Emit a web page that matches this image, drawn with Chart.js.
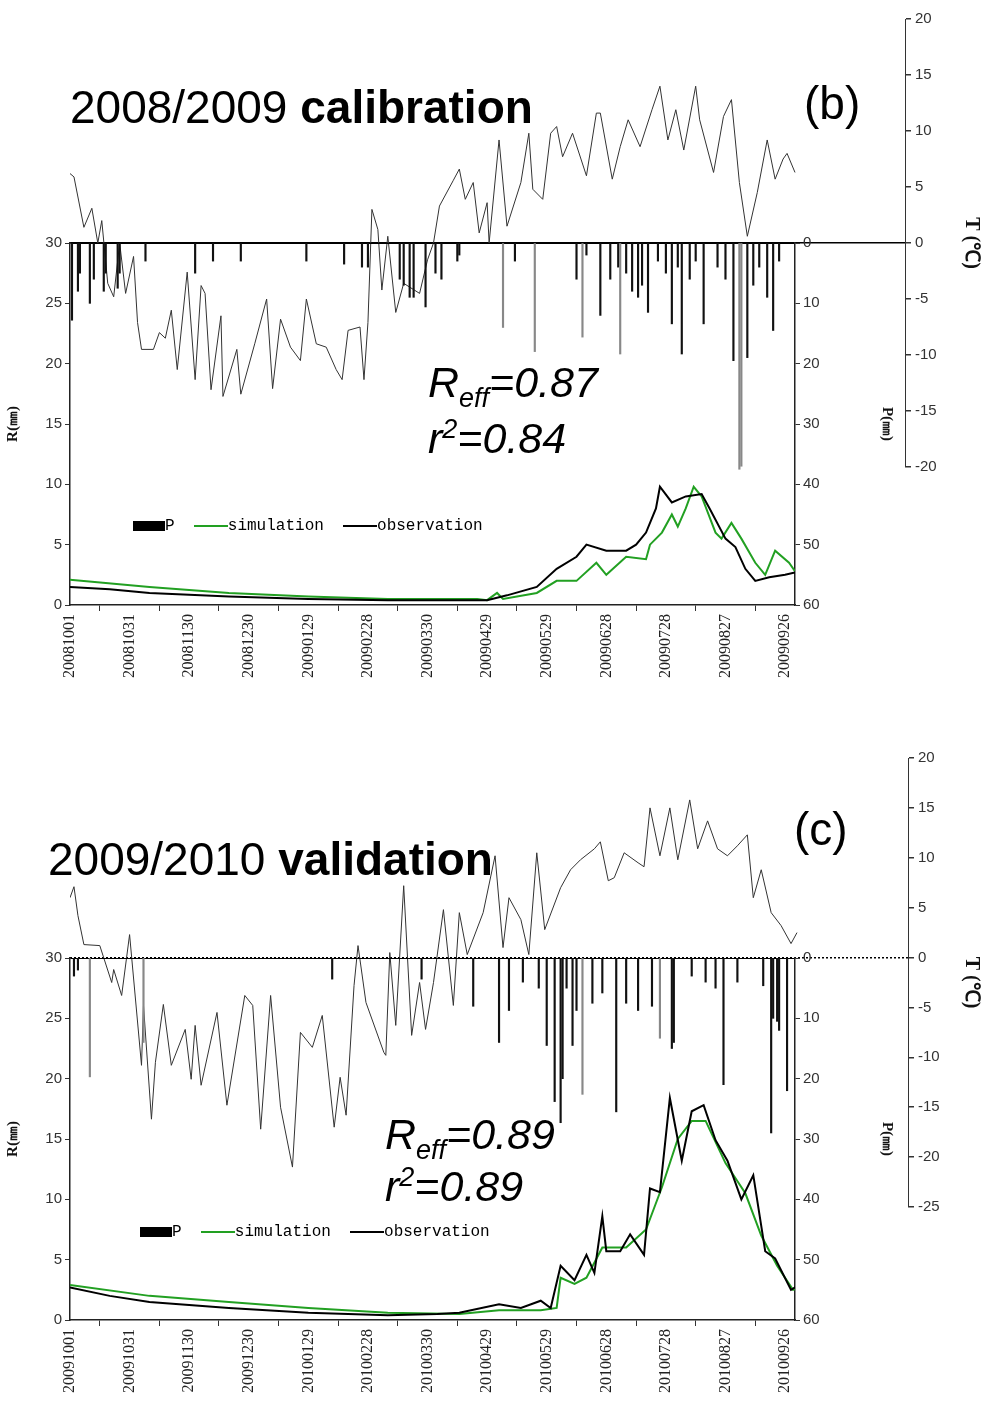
<!DOCTYPE html>
<html>
<head>
<meta charset="utf-8">
<script src="https://cdn.jsdelivr.net/npm/chart.js@4"></script>
<style>
body { margin: 0; background: #fff; width: 987px; height: 1425px; position: relative; overflow: hidden; }
canvas { position: absolute; }
.t { position: absolute; font-family: "Liberation Sans", Arial, sans-serif; color: #000; white-space: nowrap; }
.title { font-size: 46px; }
.stat { font-size: 43px; font-style: italic; }
.leg { position: absolute; font-family: "Liberation Mono", monospace; font-size: 16px; white-space: nowrap; }
.leg span { display: inline-block; vertical-align: middle; }
</style>
</head>
<body>
<canvas id="tempB" style="left:0;top:0"></canvas>
<canvas id="mainB" style="left:0;top:230px"></canvas>
<canvas id="tempC" style="left:0;top:720px"></canvas>
<canvas id="mainC" style="left:0;top:945px"></canvas>

<div class="t title" style="left:70px;top:80px">2008/2009 <b>calibration</b></div>
<div class="t title" style="left:804px;top:76px">(b)</div>
<div class="t stat" style="left:428px;top:358px">R<sub style="font-size:27px">eff</sub>=0.87</div>
<div class="t stat" style="left:428px;top:414px">r<sup style="font-size:27px">2</sup>=0.84</div>
<div class="leg" style="left:133px;top:517px"><span style="width:32px;height:10px;background:#000"></span>P&nbsp;&nbsp;<span style="width:34px;height:2px;background:#22a022"></span>simulation&nbsp;&nbsp;<span style="width:34px;height:2px;background:#000"></span>observation</div>

<div class="t title" style="left:48px;top:832px">2009/2010 <b>validation</b></div>
<div class="t title" style="left:794px;top:802px">(c)</div>
<div class="t stat" style="left:385px;top:1110px">R<sub style="font-size:27px">eff</sub>=0.89</div>
<div class="t stat" style="left:385px;top:1162px">r<sup style="font-size:27px">2</sup>=0.89</div>
<div class="leg" style="left:140px;top:1223px"><span style="width:32px;height:10px;background:#000"></span>P&nbsp;&nbsp;<span style="width:34px;height:2px;background:#22a022"></span>simulation&nbsp;&nbsp;<span style="width:34px;height:2px;background:#000"></span>observation</div>

<script>
// ---- panel (b) 2008/2009, x = day since 1 Oct 2008 ----
const tempDayB = [0,2,7,11,14,16,19,22,25,28,32,34,36,42,45,48,51,54,59,63,66,68,71,76,77,84,86,93,99,102,106,111,116,119,124,129,134,137,140,146,148,150,152,155,157,160,164,168,176,180,183,186,193,196,199,203,206,210,211,216,220,227,231,233,238,242,245,248,253,260,265,267,273,277,281,287,293,297,301,305,309,315,317,324,329,333,337,341,346,351,355,359,361,365];
const tempB = [6.2,5.9,1.4,3.1,0,2,-3.6,-4.8,0,-4.5,-1.2,-7.1,-9.5,-9.5,-8,-8.5,-6,-11.3,-2.6,-12.2,-3.8,-4.5,-13.1,-6.5,-13.7,-9.5,-13.5,-9,-5,-13,-6.8,-9.3,-10.5,-5,-9,-9.3,-11.3,-12.2,-7.8,-7.5,-12.2,-7.1,3,1.2,-4.2,0.6,-6.2,-3.6,-4.5,-1.5,0,3.3,5.6,6.6,3.9,5.4,0.9,3.6,0,9.2,1.5,5.4,9.8,4.8,3.9,9.8,10.4,7.7,9.8,6,11.6,11.6,5.7,8.6,11,8.6,11.9,14,9.2,11.9,8.3,14,11,6.3,11.3,12.8,5.4,0.6,4.5,9.2,5.7,7.5,8,6.3];
const precDayB = [1,4,5,10,12,17,18,24,25,38,63,72,86,119,138,147,150,166,168,171,173,179,184,187,195,196,218,224,234,255,258,260,267,272,276,277,280,283,286,288,291,296,300,303,306,308,312,315,319,326,330,334,337,338,341,344,347,351,354,357];
const precB = [12.8,8,5,10,6,8,5,7.5,5,3,5,3,3,3,3.5,4,4,6,7,9,9,10.6,5,6,3,2,14,3,18,6,15.6,2,12,6,4,18.4,5,8,9,7,11.5,3,5,13.4,4,18.4,6,3,13.4,4,6,19.5,37.5,37,19,7,4,9,14.5,3];
const grayDayB = [218,234,258,277,337,338];
const obsDayB = [0,20,40,80,120,160,200,210,220,235,245,255,260,270,280,285,290,295,297,303,310,318,322,330,335,340,345,352,360,365];
const obsB = [1.5,1.3,1.0,0.7,0.5,0.4,0.4,0.4,0.8,1.5,3,4,5,4.5,4.5,5,6,8,9.8,8.5,9,9.2,8,5.5,4.8,3,2,2.3,2.5,2.7];
const simDayB = [0,40,80,120,160,205,210,215,218,235,245,255,265,270,280,290,292,298,303,306,310,314,318,325,328,333,338,345,350,355,362,365];
const simB = [2.1,1.5,1.0,0.7,0.5,0.5,0.4,1.0,0.5,1.0,2,2,3.5,2.5,4,3.8,5,6,7.5,6.5,8,9.8,9,6,5.5,6.8,5.5,3.5,2.5,4.5,3.5,2.8];

// ---- panel (c) 2009/2010, x = day since 1 Oct 2009 ----
const tempDayC = [0,2,4,7,15,21,22,26,30,36,37,41,43,47,51,58,61,63,66,74,79,88,92,96,101,106,112,116,122,127,133,136,139,143,145,149,158,159,161,164,168,172,176,179,183,188,193,196,200,208,214,218,221,227,231,235,239,247,252,257,264,267,271,274,279,286,289,292,297,302,306,312,316,321,326,331,336,341,344,348,353,358,363,366];
const tempC = [6,7.1,4.2,1.3,1.2,-2.5,-1.2,-3.8,2.3,-10.8,-4.8,-16.2,-10.5,-4.7,-10.8,-7.2,-12.2,-6.8,-12.8,-5.5,-14.8,-3.8,-4.8,-17.2,-3.8,-15,-21,-7.5,-9,-5.8,-17,-12,-15.8,-2.8,1.2,-4.5,-9.5,-9.8,0.5,-6.8,7.2,-7.8,-2.5,-7.2,-2.5,4.8,-4.8,4.5,0.3,4.5,10.2,1,6,3.8,0.3,10.5,2.8,7,8.8,9.8,10.9,11.6,7.7,8,10.5,9.5,9.1,15,10.2,15,9.8,15.8,10.9,13.7,10.9,10.2,11.2,12.3,6,8.8,4.5,3.2,1.4,2.5];
const precDayC = [2,4,10,37,132,177,203,216,221,228,236,240,244,247,248,250,253,255,258,263,268,275,280,286,293,297,303,304,313,320,325,329,336,349,353,354,356,357,361,366];
const precC = [3,2,19.7,14,3.5,3.5,8,14,8.7,4,5,14.5,23.8,27.3,20,5,14.5,8.7,22.6,7.5,5.8,25.5,7.5,8.7,8,13.3,15,14,3,4,5,21,4,4.6,29,10,10.5,12,22,7.5];
const grayDayC = [10,37,258,297];
const obsDayC = [0,20,40,80,120,160,185,196,216,227,237,242,247,254,260,264,268,270,277,282,289,292,297,302,308,313,319,325,331,338,344,350,355,363,366];
const obsC = [2.7,2.0,1.5,1.0,0.6,0.4,0.5,0.6,1.3,1.0,1.6,1.0,4.5,3.3,5.4,3.9,8.6,5.7,5.7,7.1,5.4,10.9,10.6,18.4,13.2,17.3,17.8,14.9,13.2,10,12,5.7,5.1,2.5,2.8];
const simDayC = [0,40,80,120,160,196,216,237,245,247,254,260,268,280,290,298,306,313,320,330,340,348,356,364,366];
const simC = [2.9,2.0,1.5,1.0,0.6,0.5,0.8,0.8,1,3.5,3,3.5,6,6,7.5,11,15,16.5,16.5,13,10.5,7,4.5,2.5,2.6];

const xTicks = [0,30,60,90,120,150,180,210,240,270,300,330,360];

function pts(xs, ys) { return xs.map((x, i) => ({ x: x, y: ys[i] })); }

function dateLabel(start, d) {
    const t = new Date(Date.UTC(start, 9, 1) + d * 86400000);
    return t.getUTCFullYear() + String(t.getUTCMonth() + 1).padStart(2, "0") + String(t.getUTCDate()).padStart(2, "0");
}

const tickFont = { family: "Liberation Sans", size: 15 };

function tempChart(id, w, h, top, bottom, axisX, tMin, tMax, xs, ys, dotted) {
    const cv = document.getElementById(id);
    cv.width = w; cv.height = h;
    new Chart(cv, {
        type: "line",
        data: { datasets: [{ data: pts(xs, ys), borderColor: "#333", borderWidth: 1, pointRadius: 0, tension: 0 }] },
        options: {
            responsive: false, animation: false,
            layout: { padding: { left: 70, top: top, bottom: h - bottom, right: 0 } },
            plugins: { legend: { display: false }, tooltip: { enabled: false } },
            scales: {
                x: { type: "linear", display: false, min: 0, max: 365 * (axisX - 70) / 725 },
                y: {
                    position: "right", min: tMin, max: tMax,
                    ticks: { stepSize: 5, color: "#333", font: tickFont, padding: 4 },
                    grid: { color: c => c.tick.value === 0 ? "#000" : "transparent", lineWidth: 1.5, drawTicks: true, tickLength: 6, tickColor: "#333" },
                    border: { color: "#333", dash: dotted ? [2, 2] : [] },
                    title: { display: true, text: "T (℃)", font: { family: "Liberation Serif", size: 20, weight: "bold" }, color: "#111" },
                    afterFit: s => { s.width = w - axisX; }
                }
            }
        }
    });
}

function mainChart(id, w, h, start, pd, pv, gray, od, ov, sd, sv) {
    const cv = document.getElementById(id);
    cv.width = w; cv.height = h;
    new Chart(cv, {
        data: {
            datasets: [
                { type: "line", data: pts(od, ov), borderColor: "#000", borderWidth: 2, pointRadius: 0, yAxisID: "y", order: 1 },
                { type: "line", data: pts(sd, sv), borderColor: "#22a022", borderWidth: 2, pointRadius: 0, yAxisID: "y", order: 2 },
                { type: "bar", data: pts(pd, pv), backgroundColor: pd.map(d => gray.includes(d) ? "#888" : "#111"), barThickness: 1.5, yAxisID: "y2", order: 3 }
            ]
        },
        options: {
            responsive: false, animation: false,
            layout: { padding: { top: 13, left: 0, right: 0, bottom: 0 } },
            plugins: { legend: { display: false }, tooltip: { enabled: false } },
            scales: {
                x: {
                    type: "linear", min: 0, max: 365, offset: false,
                    afterBuildTicks: s => { s.ticks = xTicks.map(v => ({ value: v })); },
                    ticks: { callback: v => dateLabel(start, v), maxRotation: 90, minRotation: 90, font: { family: "Liberation Serif", size: 16 }, color: "#222" },
                    grid: { drawOnChartArea: false, tickLength: 6, tickColor: "#333" },
                    border: { color: "#222", width: 1.5 },
                    afterFit: s => { s.height = h - 13 - 362; }
                },
                y: {
                    position: "left", min: 0, max: 30,
                    ticks: { stepSize: 5, font: tickFont, color: "#333" },
                    grid: { color: c => c.tick.value === 30 ? "#000" : "transparent", tickLength: 5, tickColor: "#333" },
                    border: { color: "#222", width: 1.5 },
                    title: { display: true, text: "R(㎜)", font: { family: "Liberation Serif", size: 15, weight: "bold" }, color: "#111" },
                    afterFit: s => { s.width = 70; }
                },
                y2: {
                    position: "right", min: 0, max: 60, reverse: true,
                    ticks: { stepSize: 10, font: tickFont, color: "#333" },
                    grid: { drawOnChartArea: false, tickLength: 5, tickColor: "#333" },
                    border: { color: "#222", width: 1.5 },
                    title: { display: true, text: "P(㎜)", font: { family: "Liberation Serif", size: 15, weight: "bold" }, color: "#111" },
                    afterFit: s => { s.width = w - 795; }
                }
            }
        }
    });
}

tempChart("tempB", 987, 490, 19, 467, 905, -20, 20, tempDayB, tempB, false);
mainChart("mainB", 900, 490, 2008, precDayB, precB, grayDayB, obsDayB, obsB, simDayB, simB);
tempChart("tempC", 987, 500, 38, 488, 908, -25, 20, tempDayC, tempC, true);
mainChart("mainC", 900, 480, 2009, precDayC, precC, grayDayC, obsDayC, obsC, simDayC, simC);
</script>
</body>
</html>
